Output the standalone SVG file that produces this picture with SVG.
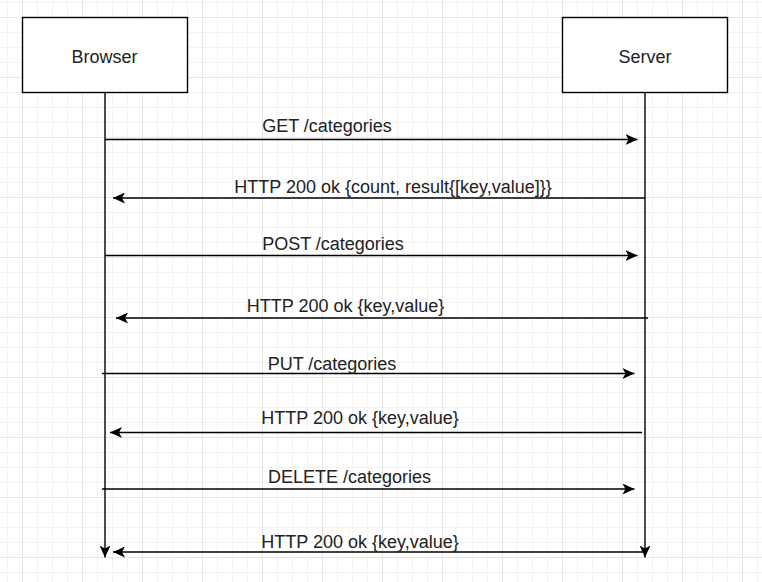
<svg xmlns="http://www.w3.org/2000/svg" width="762" height="582" viewBox="0 0 762 582">
  <defs>
    <pattern id="grid" patternUnits="userSpaceOnUse" x="22" y="17" width="60" height="60">
      <path d="M15.5 0V60M30.5 0V60M45.5 0V60M0 15.5H60M0 30.5H60M0 45.5H60" stroke="#f3f3f3" stroke-width="1" fill="none"/>
      <path d="M0.5 0V60M0 0.5H60" stroke="#e6e6e6" stroke-width="1" fill="none"/>
    </pattern>
    <marker id="arrow" viewBox="0 0 12 11" refX="12" refY="5.5" markerWidth="12" markerHeight="11" markerUnits="userSpaceOnUse" orient="auto">
      <path d="M0 0L12 5.5L0 11L3 5.5Z" fill="#000"/>
    </marker>
  </defs>
  <style>
    .box { fill: #fff; stroke: #000; stroke-width: 1.4; }
    .lbl { font-family: "Liberation Sans", Arial, sans-serif; font-size: 18px; fill: #222; text-anchor: middle; }
    .msg { fill: none; stroke: #000; stroke-width: 1.4; marker-end: url(#arrow); }
  </style>
  <rect width="762" height="582" fill="#fff"/>
  <rect width="762" height="582" fill="url(#grid)"/>

  <g id="connectors">
    <path class="msg" d="M105 93V557.5"/>
    <path class="msg" d="M645 93V557.5"/>
    <path class="msg" d="M105 139.5H637.5"/>
    <path class="msg" d="M645 198H113"/>
    <path class="msg" d="M105 255.5H637.5"/>
    <path class="msg" d="M648 318H116"/>
    <path class="msg" d="M102 373.5H634.5"/>
    <path class="msg" d="M642 432.5H110"/>
    <path class="msg" d="M102 489H634.5"/>
    <path class="msg" d="M645 552H113"/>
  </g>

  <g id="browser">
    <rect class="box" x="22.5" y="17.5" width="165" height="75"/>
    <text class="lbl" x="104.5" y="62.5">Browser</text>
  </g>
  <g id="server">
    <rect class="box" x="562.5" y="17.5" width="165" height="75"/>
    <text class="lbl" x="645" y="62.5">Server</text>
  </g>

  <g id="labels">
    <text class="lbl" x="327" y="132">GET /categories</text>
    <text class="lbl" x="393" y="193">HTTP 200 ok {count, result{[key,value]}}</text>
    <text class="lbl" x="333" y="250">POST /categories</text>
    <text class="lbl" x="345.5" y="311.5">HTTP 200 ok {key,value}</text>
    <text class="lbl" x="332" y="370">PUT /categories</text>
    <text class="lbl" x="360" y="423.5">HTTP 200 ok {key,value}</text>
    <text class="lbl" x="349.5" y="482.5">DELETE /categories</text>
    <text class="lbl" x="360" y="547.5">HTTP 200 ok {key,value}</text>
  </g>
</svg>
